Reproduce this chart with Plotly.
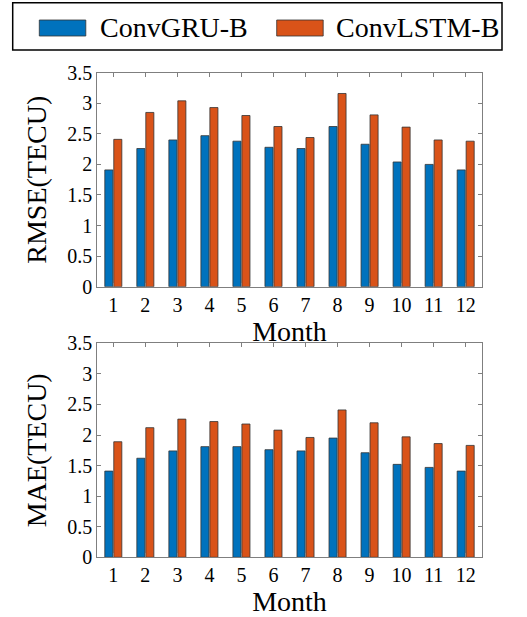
import plotly.graph_objects as go

months = [str(m) for m in range(1, 13)]
series_names = ["ConvGRU-B", "ConvLSTM-B"]
rmse_gru = [1.91, 2.26, 2.40, 2.47, 2.38, 2.28, 2.26, 2.62, 2.33, 2.04, 2.00, 1.91]
rmse_lstm = [2.41, 2.85, 3.04, 2.93, 2.80, 2.62, 2.44, 3.16, 2.81, 2.61, 2.40, 2.38]
mae_gru = [1.41, 1.62, 1.74, 1.81, 1.81, 1.76, 1.74, 1.95, 1.71, 1.52, 1.47, 1.41]
mae_lstm = [1.89, 2.12, 2.26, 2.22, 2.18, 2.08, 1.96, 2.41, 2.20, 1.97, 1.86, 1.83]
yticks = [0, 0.5, 1, 1.5, 2, 2.5, 3, 3.5]
ytick_labels = ["0", "0.5", "1", "1.5", "2", "2.5", "3", "3.5"]

colors = ["#0072BD", "#D95319"]
FONT = "Liberation Serif, Times New Roman, serif"
W, H = 527, 617
AXC = "#7f7f7f"

fig = go.Figure()
for vals, name, col, xa, ya in [
    (rmse_gru, series_names[0], colors[0], "x", "y"),
    (rmse_lstm, series_names[1], colors[1], "x", "y"),
    (mae_gru, series_names[0], colors[0], "x2", "y2"),
    (mae_lstm, series_names[1], colors[1], "x2", "y2"),
]:
    fig.add_trace(go.Bar(
        x=list(range(1, 13)), y=vals, name=name, xaxis=xa, yaxis=ya,
        marker=dict(color=col, line=dict(color="#333333", width=0.8)),
        showlegend=False,
    ))

def px_x(p):
    return p / W

def px_y(p):
    return 1 - p / H

xdom = [px_x(97.3), px_x(481.7)]
common_x = dict(
    range=[0.5, 12.5], tickmode="array", tickvals=list(range(1, 13)), ticktext=months,
    ticks="inside", ticklen=4, tickcolor=AXC, showline=True, linecolor=AXC,
    linewidth=1, mirror="ticks", showgrid=False, zeroline=False, automargin=False,
    tickfont=dict(family=FONT, size=20, color="black"),
    title=dict(text="Month", font=dict(family=FONT, size=28, color="black"), standoff=0),
    domain=xdom,
)
common_y = dict(
    range=[0, 3.5], tickmode="array", tickvals=yticks, ticktext=ytick_labels,
    ticks="inside", ticklen=4, tickcolor=AXC, showline=True, linecolor=AXC,
    linewidth=1, mirror="ticks", showgrid=False, zeroline=False, automargin=False,
    tickfont=dict(family=FONT, size=20, color="black"),
)

fig.update_layout(
    width=W, height=H,
    margin=dict(l=0, r=0, t=0, b=0, pad=0, autoexpand=False),
    paper_bgcolor="white", plot_bgcolor="white",
    barmode="group", bargap=0.44, bargroupgap=0.1,
    xaxis=dict(**common_x, anchor="y"),
    xaxis2=dict(**common_x, anchor="y2"),
    yaxis=dict(**common_y, anchor="x", domain=[px_y(286.7), px_y(72.7)],
               title=dict(text="RMSE(TECU)", font=dict(family=FONT, size=28, color="black"), standoff=12)),
    yaxis2=dict(**common_y, anchor="x2", domain=[px_y(557.3), px_y(343.3)],
                title=dict(text="MAE(TECU)", font=dict(family=FONT, size=28, color="black"), standoff=12)),
    showlegend=False,
)

# custom legend (box, patches, labels)
shapes = [dict(type="rect", xref="paper", yref="paper",
               x0=px_x(12.7), x1=px_x(502), y0=px_y(50), y1=px_y(2.7),
               line=dict(color="black", width=1.5), fillcolor="white")]
patch_x = [39.3, 276.7]
text_x = [98, 334]
annotations = []
for i in range(2):
    shapes.append(dict(type="rect", xref="paper", yref="paper",
                       x0=px_x(patch_x[i]), x1=px_x(patch_x[i] + 46.5),
                       y0=px_y(36), y1=px_y(20),
                       line=dict(color="#333333", width=0.8), fillcolor=colors[i]))
    annotations.append(dict(xref="paper", yref="paper", x=px_x(text_x[i]), y=px_y(27.5),
                            xanchor="left", yanchor="middle", showarrow=False,
                            text=series_names[i],
                            font=dict(family=FONT, size=28, color="black")))
fig.update_layout(shapes=shapes, annotations=annotations)

fig.write_html("out.html", config={"displayModeBar": False},
               post_script="document.body.style.margin='0px';")
